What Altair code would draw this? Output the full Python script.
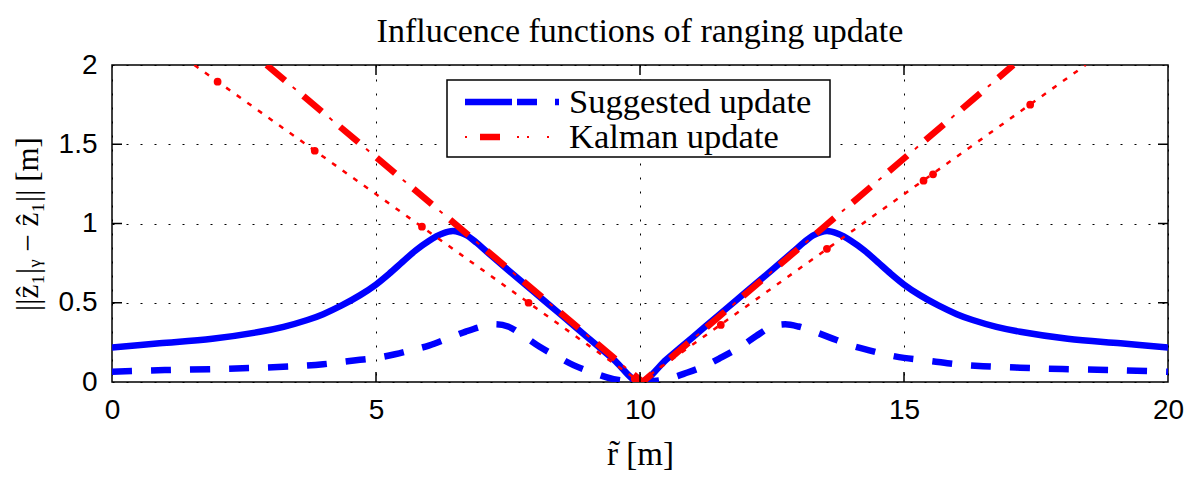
import altair as alt
import pandas as pd

# ---- data ----
solid_r = [0, 0.9, 1.9, 2.8, 3.25, 3.7, 4.0, 4.35, 4.7, 5.0, 5.25, 5.5, 5.75, 6.0, 6.25, 6.46, 6.7, 6.9, 7.1, 7.5,
           8.0, 8.5, 9.0, 9.5, 10.0,
           10.5, 11, 11.5, 12, 12.5, 12.9, 13.1, 13.3, 13.54, 13.75, 14.0, 14.25, 14.5, 14.75, 15.0, 15.3, 15.65,
           16.0, 16.3, 16.75, 17.2, 18.1, 19.1, 20]
suggested_solid = [0.218, 0.244, 0.273, 0.317, 0.348, 0.391, 0.428, 0.483, 0.548, 0.615, 0.683, 0.757, 0.83, 0.89,
                   0.935, 0.953, 0.928, 0.88, 0.822, 0.707, 0.566, 0.425, 0.283, 0.142, 0.0,
                   0.142, 0.283, 0.425, 0.566, 0.707, 0.822, 0.88, 0.928, 0.953, 0.935, 0.89, 0.83, 0.757, 0.683,
                   0.615, 0.548, 0.483, 0.428, 0.391, 0.348, 0.317, 0.273, 0.244, 0.218]
dashed_r = [0, 1, 2, 2.8, 3.5, 4, 4.5, 5, 5.36, 5.64, 6, 6.4, 6.7, 7, 7.25, 7.5, 7.8, 8.1, 8.5, 8.75, 9.1, 9.5, 10,
            10.5, 10.9, 11.25, 11.5, 11.9, 12.2, 12.5, 12.75, 13, 13.3, 13.6, 14, 14.36, 14.64, 15, 15.5, 16, 16.5,
            17.2, 18, 19, 20]
suggested_dashed = [0.065, 0.075, 0.082, 0.09, 0.1, 0.112, 0.133, 0.152, 0.175, 0.198, 0.23, 0.28, 0.318, 0.35, 0.364,
                    0.35, 0.29, 0.222, 0.148, 0.105, 0.06, 0.018, 0.0,
                    0.018, 0.06, 0.105, 0.148, 0.222, 0.29, 0.35, 0.364, 0.35, 0.318, 0.28, 0.23, 0.198, 0.175,
                    0.152, 0.133, 0.112, 0.1, 0.09, 0.082, 0.075, 0.065]
kalman_dd_r = [2.93, 10.05, 17.07]
kalman_dd_v = [2.0, 0.0, 2.0]
kalman_dot_r = [1.56, 10.0, 18.44]
kalman_dot_v = [2.0, 0.0, 2.0]
kalman_mark_r = [2.0, 3.84, 5.87, 7.89, 9.9, 11.53, 13.54, 15.37, 15.55, 17.39]
kalman_mark_v = [1.895, 1.459, 0.98, 0.50, 0.02, 0.36, 0.84, 1.27, 1.31, 1.75]
x_ticks = [0, 5, 10, 15, 20]
y_ticks = [0, 0.5, 1, 1.5, 2]

TITLE = "Influcence functions of ranging update"
X_TITLE = "r\u0303 [m]"
Y_TITLE = "||\u1e91\u2081|\u1d67 \u2212 \u1e91\u2081|| [m]"
LEG1 = "Suggested update"
LEG2 = "Kalman update"

W, H = 1056, 317
SERIF = "Liberation Serif"
SANS = "Liberation Sans"

xs = alt.Scale(domain=[0, 20], nice=False, zero=False)
ys = alt.Scale(domain=[0, 2], nice=False, zero=False)
X = alt.X("x:Q", scale=xs, axis=alt.Axis(values=x_ticks, title=X_TITLE, format="~g"))
Y = alt.Y("y:Q", scale=ys, axis=alt.Axis(values=y_ticks, title=Y_TITLE, format="~g"))

df_solid = pd.DataFrame({"x": solid_r, "y": suggested_solid})
df_dashed = pd.DataFrame({"x": dashed_r, "y": suggested_dashed})
df_dd = pd.DataFrame({"x": kalman_dd_r, "y": kalman_dd_v})
df_dot = pd.DataFrame({"x": kalman_dot_r, "y": kalman_dot_v})
df_marks = pd.DataFrame({"x": kalman_mark_r, "y": kalman_mark_v})
df_xt = pd.DataFrame({"x": x_ticks[1:-1]})
df_yt = pd.DataFrame({"y": y_ticks[1:-1]})
one = pd.DataFrame({"a": [0]})

BLUE = "#0000ff"
RED = "#ff0000"

solid = alt.Chart(df_solid).mark_line(color=BLUE, strokeWidth=6.5, interpolate="catmull-rom", clip=True).encode(x=X, y=Y)
dashed = alt.Chart(df_dashed).mark_line(color=BLUE, strokeWidth=6.5, strokeDash=[20, 19], interpolate="catmull-rom", clip=True).encode(x=X, y=Y)
dd_thick = alt.Chart(df_dd).mark_line(color=RED, strokeWidth=6.5, strokeDash=[24, 24], clip=True).encode(x=X, y=Y)
dd_thin = alt.Chart(df_dd).mark_line(color=RED, strokeWidth=2, strokeDash=[4, 44], strokeDashOffset=-34, clip=True).encode(x=X, y=Y)
dotted = alt.Chart(df_dot).mark_line(color=RED, strokeWidth=2.5, strokeDash=[5, 8], clip=True).encode(x=X, y=Y)
marks = alt.Chart(df_marks).mark_point(color=RED, filled=True, opacity=1, size=60, clip=True).encode(x=X, y=Y)

tick_b = alt.Chart(df_xt).mark_rule(color="black", strokeWidth=1.5).encode(x=X, y=alt.value(H - 10), y2=alt.value(H))
tick_t = alt.Chart(df_xt).mark_rule(color="black", strokeWidth=1.5).encode(x=X, y=alt.value(0), y2=alt.value(10))
tick_l = alt.Chart(df_yt).mark_rule(color="black", strokeWidth=1.5).encode(y=Y, x=alt.value(0), x2=alt.value(10))
tick_r = alt.Chart(df_yt).mark_rule(color="black", strokeWidth=1.5).encode(y=Y, x=alt.value(W - 10), x2=alt.value(W))

# legend box
lx0, lx1, ly0, ly1 = 335, 718, 15, 92
leg_box = alt.Chart(one).mark_rect(fill="white", stroke="black", strokeWidth=1.5).encode(
    x=alt.value(lx0), x2=alt.value(lx1), y=alt.value(ly0), y2=alt.value(ly1))
leg_l1 = alt.Chart(one).mark_rule(color=BLUE, strokeWidth=6.5, strokeDash=[47, 5, 20, 18, 4, 30]).encode(
    x=alt.value(353), x2=alt.value(447), y=alt.value(37))
leg_l2a = alt.Chart(one).mark_rule(color=RED, strokeWidth=6.5).encode(
    x=alt.value(368), x2=alt.value(388), y=alt.value(72))
leg_l2b = alt.Chart(one).mark_rule(color=RED, strokeWidth=2, strokeDash=[2, 50, 2, 8, 2, 18, 2, 30]).encode(
    x=alt.value(353), x2=alt.value(447), y=alt.value(72))
leg_t1 = alt.Chart(one).mark_text(text=LEG1, align="left", baseline="middle", font=SERIF, fontSize=34.5, color="black").encode(
    x=alt.value(457), y=alt.value(38))
leg_t2 = alt.Chart(one).mark_text(text=LEG2, align="left", baseline="middle", font=SERIF, fontSize=34.5, color="black").encode(
    x=alt.value(457), y=alt.value(73))

chart = alt.layer(
    solid, dashed, dd_thick, dd_thin, dotted, marks,
    tick_b, tick_t, tick_l, tick_r,
    leg_box, leg_l1, leg_l2a, leg_l2b, leg_t1, leg_t2,
).properties(
    width=W, height=H,
    title=alt.TitleParams(TITLE, font=SERIF, fontSize=34, fontWeight="normal", anchor="middle", offset=2, color="black"),
    autosize=alt.AutoSizeParams(type="none"),
    padding={"left": 104, "top": 57, "right": 20, "bottom": 95},
).configure_view(
    stroke="black", strokeWidth=1.5
).configure_axis(
    grid=True, gridColor="black", gridDash=[2, 12], gridWidth=1, gridOpacity=1,
    domain=False, ticks=False, labelFlush=False,
    labelFont=SANS, labelFontSize=28, labelColor="black", labelPadding=14,
    titleFont=SERIF, titleFontSize=31, titleFontWeight="normal", titleColor="black",
).configure_axisY(titlePadding=14, labelPadding=15).configure_axisX(titlePadding=14, titleFontSize=33)

chart.save("out.html", embed_options={"renderer": "svg", "actions": False})
